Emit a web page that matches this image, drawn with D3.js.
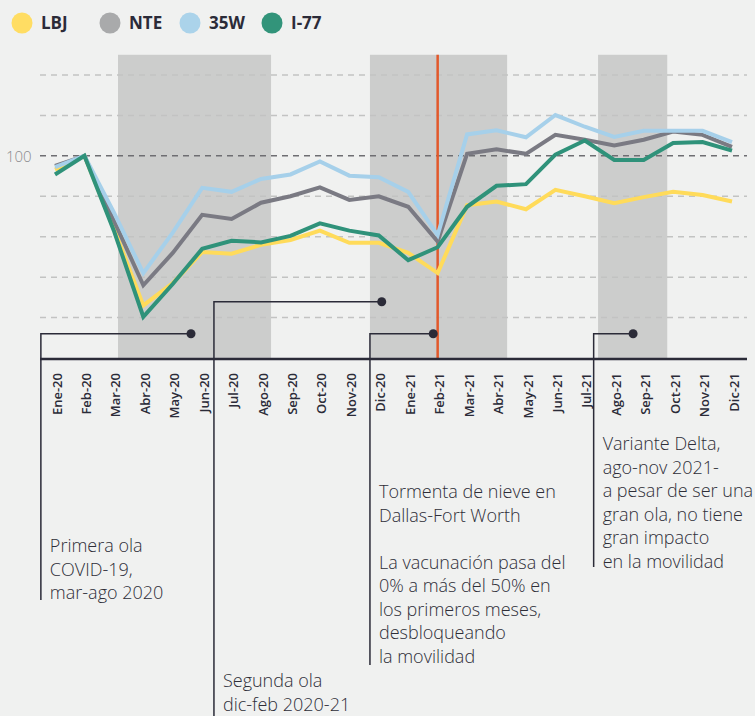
<!DOCTYPE html>
<html>
<head>
<meta charset="utf-8">
<script src="https://cdn.jsdelivr.net/npm/d3@7"></script>
<style>
  html, body { margin: 0; padding: 0; background: #f0f1f0; }
  svg { display: block; font-family: "Open Sans", sans-serif; }
</style>
</head>
<body>
<div id="chart"></div>
<script>
// months on the x axis
const months = ["Ene-20","Feb-20","Mar-20","Abr-20","May-20","Jun-20","Jul-20","Ago-20","Sep-20","Oct-20","Nov-20","Dic-20",
  "Ene-21","Feb-21","Mar-21","Abr-21","May-21","Jun-21","Jul-21","Ago-21","Sep-21","Oct-21","Nov-21","Dic-21"];

// traffic index (Feb-20 = 100)
const lbj  = [96.6,100,82,63,68.5,76.2,75.8,78,79.2,81.5,78.5,78.5,76,71,87.8,88.7,86.8,91.6,90,88.3,89.8,91.1,90.3,88.7];
const nte  = [97.5,100,84,68,76,85.4,84.4,88.4,90,92.2,89.1,90,87.4,78.8,100.5,101.6,100.5,105.2,104,102.6,104,106,105.2,102.2];
const w35  = [97.2,100,86,71,81,92.1,91.1,94.3,95.4,98.6,95.1,94.7,91.1,80.4,105.3,106.3,104.6,110.1,107.2,104.7,106.2,106.2,106.2,103.4];
const i77  = [95.4,100,81.5,60.2,68.3,77,79,78.6,80.2,83.3,81.5,80.3,74.2,77.4,87.4,92.6,93,100.3,103.8,99,99,103.2,103.4,101.3];

const seriesNames = ["LBJ","NTE","35W","I-77"];
const lineColors = { "LBJ": "#ffdb5a", "NTE": "#7a7a83", "35W": "#a6d0ea", "I-77": "#2f927a" };
const legendColors = { "LBJ": "#ffdd63", "NTE": "#a9aaab", "35W": "#abd3ea", "I-77": "#32947a" };

const gridValues = [60, 70, 80, 90, 100, 110, 120];

// shaded COVID waves, in month index units
const waves = [[2.14, 7.34], [10.7, 15.36], [18.45, 20.8]];
const stormIndex = 13;

// annotation anchors: dot (month index, value), leader x (month index), text lines
const notes = [
  { dot: [4.62, 56], leader: -0.48, bottom: 600, textY: 552,
    lines: ["Primera ola", "COVID-19,", "mar-ago 2020"] },
  { dot: [11.1, 63.9], leader: 5.4, bottom: 716, textY: 687,
    lines: ["Segunda ola", "dic-feb 2020-21"] },
  { dot: [12.85, 56], leader: 10.7, bottom: 665, textY: 498,
    lines: ["Tormenta de nieve en", "Dallas-Fort Worth", "", "La vacunación pasa del", "0% a más del 50% en", "los primeros meses,", "desbloqueando", "la movilidad"] },
  { dot: [19.64, 56], leader: 18.3, bottom: 567, textY: 450,
    lines: ["Variante Delta,", "ago-nov 2021-", "a pesar de ser una", "gran ola, no tiene", "gran impacto", "en la movilidad"] }
];

const W = 755, H = 716;
const ink = "#2b2b38";

const svg = d3.select("#chart").append("svg")
  .attr("width", W).attr("height", H);

const x = d3.scalePoint().domain(months).range([55, 732]);
const xi = d3.scaleLinear().domain([0, months.length - 1]).range([55, 732]);
const y = d3.scaleLinear().domain([50, 120]).range([358, 75]);

// bands
svg.append("g").selectAll("rect")
  .data(waves)
  .enter().append("rect")
  .attr("x", d => xi(d[0]))
  .attr("width", d => xi(d[1]) - xi(d[0]))
  .attr("y", y(125))
  .attr("height", y(50) - y(125))
  .attr("fill", "#cccdcc");

// gridlines
svg.append("g").selectAll("line")
  .data(gridValues)
  .enter().append("line")
  .attr("x1", 40).attr("x2", 747)
  .attr("y1", d => y(d)).attr("y2", d => y(d))
  .attr("stroke", d => d === 100 ? "#6e6e72" : "#c2c3c2")
  .attr("stroke-width", 1.5)
  .attr("stroke-dasharray", "6,5");

svg.append("text")
  .attr("x", 6).attr("y", y(100) + 6)
  .attr("font-size", 15).attr("font-weight", 300)
  .attr("fill", "#8a8a8e")
  .text("100");

// storm marker
svg.append("line")
  .attr("x1", x(months[stormIndex])).attr("x2", x(months[stormIndex]))
  .attr("y1", y(125)).attr("y2", y(50))
  .attr("stroke", "#e2592b").attr("stroke-width", 2.5);

// leaders
const noteG = svg.append("g");
notes.forEach(n => {
  const dx = xi(n.dot[0]), dy = y(n.dot[1]), lx = xi(n.leader);
  noteG.append("path")
    .attr("d", `M${dx},${dy}H${lx}V${n.bottom}`)
    .attr("fill", "none").attr("stroke", ink).attr("stroke-width", 1.5);
  noteG.append("circle")
    .attr("cx", dx).attr("cy", dy).attr("r", 4.5).attr("fill", ink);
  const t = noteG.append("text")
    .attr("x", lx + 9).attr("y", n.textY)
    .attr("font-size", 18).attr("font-weight", 300).attr("fill", "#2e2e38");
  n.lines.forEach((l, i) => {
    t.append("tspan").attr("x", lx + 9).attr("y", n.textY + i * 23.5).text(l);
  });
});

// lines
const line = d3.line()
  .x((d, i) => x(months[i]))
  .y(d => y(d));

const seriesData = { "LBJ": lbj, "NTE": nte, "35W": w35, "I-77": i77 };
["LBJ", "NTE", "35W", "I-77"].forEach(name => {
  svg.append("path")
    .datum(seriesData[name])
    .attr("d", line)
    .attr("fill", "none")
    .attr("stroke", lineColors[name])
    .attr("stroke-width", 4);
});

// x axis
svg.append("line")
  .attr("x1", 40).attr("x2", 747)
  .attr("y1", 359).attr("y2", 359)
  .attr("stroke", ink).attr("stroke-width", 2.5);

svg.append("g").selectAll("text")
  .data(months)
  .enter().append("text")
  .attr("transform", d => `translate(${x(d) + 2},373) rotate(-90)`)
  .attr("text-anchor", "end")
  .attr("dy", "0.35em")
  .attr("font-size", 13).attr("font-weight", 600)
  .attr("fill", ink)
  .text(d => d);

// legend
const legendX = [22, 110, 190, 272];
const lg = svg.append("g").selectAll("g")
  .data(seriesNames)
  .enter().append("g")
  .attr("transform", (d, i) => `translate(${legendX[i]},23)`);
lg.append("circle").attr("r", 10.5).attr("fill", d => legendColors[d]);
lg.append("text")
  .attr("x", 19).attr("dy", "0.36em")
  .attr("font-size", 17).attr("font-weight", 700)
  .attr("fill", ink)
  .text(d => d);
</script>
</body>
</html>
